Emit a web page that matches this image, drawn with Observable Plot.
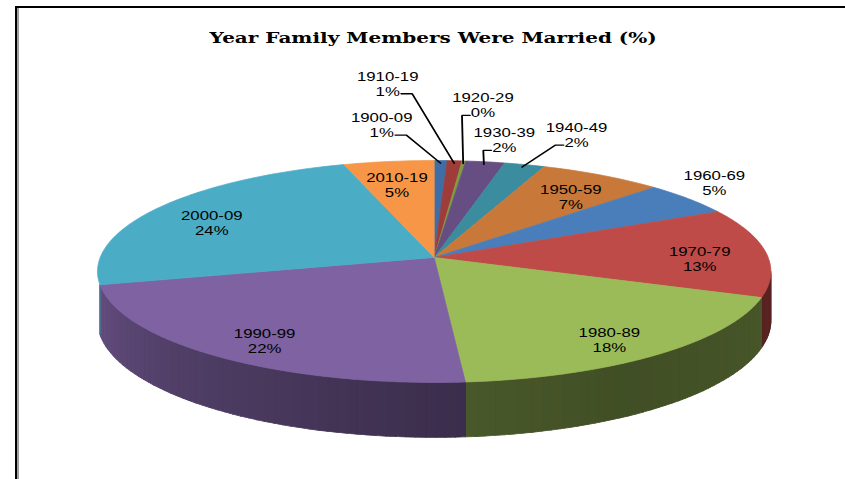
<!DOCTYPE html>
<html><head><meta charset="utf-8">
<script src="https://cdn.jsdelivr.net/npm/d3@7"></script>
<script src="https://cdn.jsdelivr.net/npm/@observablehq/plot@0.6"></script>
<style>
html,body{margin:0;padding:0;background:#fff;overflow:hidden;}
#page{position:relative;width:845px;height:479px;overflow:hidden;background:#fff;}
#stage{position:absolute;left:0;top:0;width:604px;height:479px;transform-origin:0 0;}
#stage svg{position:absolute;left:0;top:0;}
#frameTop{position:absolute;left:15px;top:6px;width:830px;height:2px;background:#000;}
#frameLeft{position:absolute;left:15px;top:6px;width:2px;height:473px;background:#000;}
#frameLeft2{position:absolute;left:17px;top:8px;width:2px;height:471px;background:#a0a0a0;}
</style></head>
<body><div id="page"><div id="stage"></div>
<div id="frameTop"></div><div id="frameLeft"></div><div id="frameLeft2"></div></div>
<script>
// ---- data ----
const chartTitle = "Year Family Members Were Married (%)";
const periods = ["1900-09","1910-19","1920-29","1930-39","1940-49","1950-59","1960-69","1970-79","1980-89","1990-99","2000-09","2010-19"];
const shares = [0.7, 0.8, 0.2, 2.1, 2.2, 6.7, 5.0, 13.0, 18.0, 22.4, 24.0, 4.9];
const shareLabels = ["1%","1%","0%","2%","2%","7%","5%","13%","18%","22%","24%","5%"];
// ---- styles ----
const topColors = ["#3F6DA6","#9E3C3A","#7E9A45","#664E83","#3A8C9E","#C8793A","#4A7EBB","#BE4B48","#9BBB59","#7E62A1","#4BACC6","#F79646"];
// ---- layout ----
const S = 845/604;                 // horizontal stretch of the original picture
const CX = 433.5, CY = 257, RX = 334, RY = 109.2, K = 0.126, DEPTH = 48/109.2;
const WALL_START = Math.acos(-K) * 180 / Math.PI;   // right silhouette angle
const WALL_END = 256;                                // left edge of the visible wall
const calloutOffsets = {"1900-09":[-59,-36],"1910-19":[-67,-77.5],"1920-29":[19,-56],"1930-39":[19,-22],"1940-49":[52,-30],"1960-69":[26,-16]};
const leaderless = new Set(["1960-69"]);

const toDeg = r => r * 180 / Math.PI;
function proj(r, deg, drop = 0) {
  const a = deg * Math.PI / 180;
  const u = r * Math.sin(a), v = r * Math.cos(a);
  const w = 1 + K * v;
  return {x: u / w, y: (v - drop) / w};
}
function shadeFactor(d) {
  const pts = [[90,0.48],[150,0.42],[180,0.48],[225,0.64],[270,0.86]];
  for (let i = 0; i < pts.length - 1; i++) {
    const [d0,f0] = pts[i], [d1,f1] = pts[i+1];
    if (d <= d1) return f0 + (f1 - f0) * Math.max(0, (d - d0) / (d1 - d0));
  }
  return pts[pts.length-1][1];
}

const arcs = d3.pie().sort(null).value(d => d)(shares);

const tops = [];
arcs.forEach((a, i) => {
  const a0 = toDeg(a.startAngle), a1 = toDeg(a.endAngle);
  const n = Math.max(2, Math.ceil((a1 - a0) / 1));
  const key = "t" + i, c = topColors[i];
  tops.push({...proj(0, 0), key, c});
  for (let j = 0; j <= n; j++) tops.push({...proj(1, a0 + (a1 - a0) * j / n), key, c});
  tops.push({...proj(0, 0), key, c});
});

const walls = [];
arcs.forEach((a, i) => {
  const a0 = Math.max(toDeg(a.startAngle), WALL_START), a1 = Math.min(toDeg(a.endAngle), WALL_END);
  if (a1 <= a0) return;
  const n = Math.max(1, Math.ceil((a1 - a0) / 1.5));
  const base = d3.rgb(topColors[i]);
  for (let j = 0; j < n; j++) {
    const b0 = a0 + (a1 - a0) * j / n, b1 = a0 + (a1 - a0) * (j + 1) / n;
    const f = shadeFactor((b0 + b1) / 2);
    const c = d3.rgb(base.r * f, base.g * f, base.b * f).formatHex();
    const key = `w${i}-${j}`;
    [proj(1,b0), proj(1,b1), proj(1,b1,DEPTH), proj(1,b0,DEPTH), proj(1,b0)].forEach(p => walls.push({...p, key, c}));
  }
});

const labels = [], leaders = [];
arcs.forEach((a, i) => {
  const mid = toDeg((a.startAngle + a.endAngle) / 2);
  const name = periods[i];
  const text = name + "\n" + shareLabels[i];
  if (calloutOffsets[name]) {
    const [dx, dy] = calloutOffsets[name];
    const rim = proj(1, mid);
    const Lx = rim.x + dx / RX, Ly = rim.y - dy / RY;
    labels.push({x: Lx, y: Ly, text});
    if (!leaderless.has(name)) {
      const start = proj(0.97, mid);
      const py = Ly - 7.5 / RY - 3 / RY;
      const end = dx < 0 ? {x: Lx + 13.5 / RX, y: py} : {x: Lx - 13 / RX, y: py};
      const elbow = dx < 0 ? {x: Lx + 24.5 / RX, y: py} : {x: Lx - 21 / RX, y: py};
      [start, elbow, end].forEach(p => leaders.push({...p, key: name}));
    }
  } else {
    const p = proj(0.8, mid);
    labels.push({x: p.x, y: p.y - 6 / RY, text});
  }
});

const chart = Plot.plot({
  width: 604, height: 479, margin: 0,
  x: {domain: [-1, 1], range: [(CX - RX) / S, (CX + RX) / S], axis: null},
  y: {domain: [-1, 1], range: [CY + RY, CY - RY], axis: null},
  color: {type: "identity"},
  style: {background: "transparent", fontFamily: "'Liberation Sans', Arial, sans-serif", fontSize: "12px", overflow: "visible"},
  marks: [
    Plot.line(walls, {x: "x", y: "y", z: "key", fill: "c", stroke: "c", strokeWidth: 0.8}),
    Plot.line(tops, {x: "x", y: "y", z: "key", fill: "c", stroke: "c", strokeWidth: 0.6}),
    Plot.line(leaders, {x: "x", y: "y", z: "key", stroke: "#000", strokeWidth: 1.3, strokeLinejoin: "miter"}),
    Plot.text(labels, {x: "x", y: "y", text: "text", fontSize: 12, lineHeight: 1.25, fill: "#000"}),
    Plot.text([chartTitle], {frameAnchor: "top", dx: (432.5 / S) - 302, dy: 38, lineAnchor: "middle", text: d => d, fontSize: 14.3, fontWeight: "bold", fontFamily: "'DejaVu Serif', serif", fill: "#000"})
  ]
});
const stage = document.getElementById("stage");
stage.style.transform = `scaleX(${S})`;
stage.appendChild(chart);
</script>
</body></html>
